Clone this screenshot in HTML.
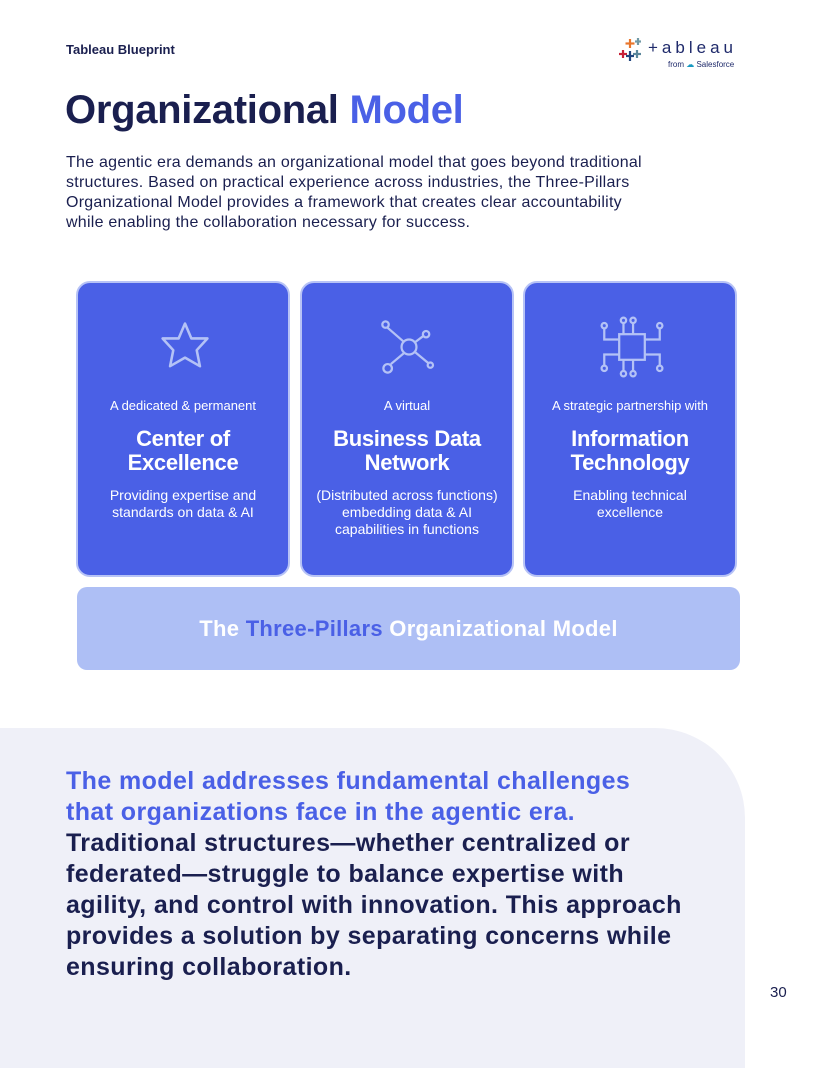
<!DOCTYPE html>
<html><head><meta charset="utf-8"><style>
*{margin:0;padding:0;box-sizing:border-box}
body{width:816px;height:1056px;background:#fff;position:relative;overflow:hidden;font-family:"Liberation Sans",sans-serif;color:#1a1f4f}
.abs{position:absolute}
.card{position:absolute;top:281px;height:296px;width:214px;background:#4a60e6;border-radius:14px;border:2px solid #b7c3f6;color:#fff;text-align:center}
.card .pre{position:absolute;top:115px;width:100%;font-size:13px}
.card h3{position:absolute;top:144px;width:100%;font-size:22px;line-height:24px;font-weight:bold;letter-spacing:-0.3px}
.card .d{position:absolute;top:204px;width:100%;font-size:14px;line-height:17px}
.card svg{position:absolute;left:75px;top:32px}
</style></head><body>
<div class="abs" style="left:66px;top:42px;font-size:13px;font-weight:bold">Tableau Blueprint</div>
<div class="abs" style="left:618px;top:36px;width:130px;height:36px">
<svg width="26" height="26" class="abs" style="left:0;top:0"><g stroke-width="2.2"><line x1="12" y1="3" x2="12" y2="12" stroke="#e8762d"/><line x1="7.5" y1="7.5" x2="16.5" y2="7.5" stroke="#e8762d"/><line x1="5" y1="14" x2="5" y2="22" stroke="#c72037"/><line x1="1" y1="18" x2="9" y2="18" stroke="#c72037"/><line x1="19" y1="14" x2="19" y2="22" stroke="#5b879b"/><line x1="15" y1="18" x2="23" y2="18" stroke="#5b879b"/><line x1="12" y1="15" x2="12" y2="25" stroke="#1f457e"/><line x1="8" y1="20" x2="16" y2="20" stroke="#1f457e"/><line x1="20" y1="2" x2="20" y2="9" stroke="#7199a6"/><line x1="17" y1="5.5" x2="23" y2="5.5" stroke="#7199a6"/></g></svg>
<div class="abs" style="left:30px;top:2px;font-size:17px;letter-spacing:4px;color:#1f2a6b">+ableau</div>
<div class="abs" style="left:50px;top:24px;font-size:8px;color:#1f2a6b">from <span style="color:#1798c1">☁</span> Salesforce</div>
</div>
<div class="abs" style="left:65px;top:88px;font-size:40px;font-weight:bold;letter-spacing:-0.3px">Organizational <span style="color:#4a60e6">Model</span></div>
<div class="abs" style="left:66px;top:153px;font-size:16px;line-height:20px;letter-spacing:0.25px;white-space:nowrap">The agentic era demands an organizational model that goes beyond traditional<br>structures. Based on practical experience across industries, the Three-Pillars<br>Organizational Model provides a framework that creates clear accountability<br>while enabling the collaboration necessary for success.</div>

<div class="card" style="left:76px">
<svg width="64" height="64" viewBox="0 0 60 60"><polygon points="30,8 36,22 51,22 41,33 44,48 30,40 16,48 19,33 9,22 24,22" fill="none" stroke="#b4c2f6" stroke-width="2.4" stroke-linejoin="round"/></svg>
<div class="pre">A dedicated &amp; permanent</div><h3>Center of<br>Excellence</h3><div class="d">Providing expertise and<br>standards on data &amp; AI</div></div>
<div class="card" style="left:300px">
<svg width="64" height="64" viewBox="0 0 60 60" fill="none" stroke="#b4c2f6" stroke-width="2.1"><circle cx="30" cy="30" r="7"/><circle cx="8" cy="9" r="3"/><circle cx="46" cy="18" r="3"/><circle cx="10" cy="50" r="4"/><circle cx="50" cy="47" r="2.5"/><line x1="10" y1="12" x2="25" y2="25"/><line x1="35" y1="26" x2="43" y2="20"/><line x1="25" y1="36" x2="13" y2="46"/><line x1="36" y1="35" x2="48" y2="45"/></svg>
<div class="pre">A virtual</div><h3>Business Data<br>Network</h3><div class="d">(Distributed across functions)<br>embedding data &amp; AI<br>capabilities in functions</div></div>
<div class="card" style="left:523px">
<svg width="64" height="64" viewBox="0 0 60 60" fill="none" stroke="#b4c2f6" stroke-width="2.1"><rect x="18" y="18" width="24" height="24"/><circle cx="4" cy="10" r="2.5"/><circle cx="22" cy="5" r="2.5"/><circle cx="31" cy="5" r="2.5"/><circle cx="56" cy="10" r="2.5"/><circle cx="4" cy="50" r="2.5"/><circle cx="22" cy="55" r="2.5"/><circle cx="31" cy="55" r="2.5"/><circle cx="56" cy="50" r="2.5"/><path d="M4 13V23H18M22 8V18M31 8V18M56 13V23H42M4 47V37H18M22 42V52M31 42V52M56 47V37H42"/></svg>
<div class="pre">A strategic partnership with</div><h3>Information<br>Technology</h3><div class="d">Enabling technical<br>excellence</div></div>

<div class="abs" style="left:77px;top:587px;width:663px;height:83px;background:#aebff5;border-radius:10px;text-align:center;line-height:83px;font-size:22px;font-weight:bold;color:#fff;letter-spacing:0.3px">The <span style="color:#4a60e6">Three-Pillars</span> Organizational Model</div>

<div class="abs" style="left:0;top:728px;width:745px;height:340px;background:#eff0f8;border-top-right-radius:90px"></div>
<div class="abs" style="left:66px;top:766px;font-size:25px;line-height:31px;font-weight:bold;letter-spacing:0.4px;white-space:nowrap"><span style="color:#4a60e6">The model addresses fundamental challenges<br>that organizations face in the agentic era.</span><br>Traditional structures—whether centralized or<br>federated—struggle to balance expertise with<br>agility, and control with innovation. This approach<br>provides a solution by separating concerns while<br>ensuring collaboration.</div>
<div class="abs" style="left:770px;top:984px;font-size:15px">30</div>
</body></html>
